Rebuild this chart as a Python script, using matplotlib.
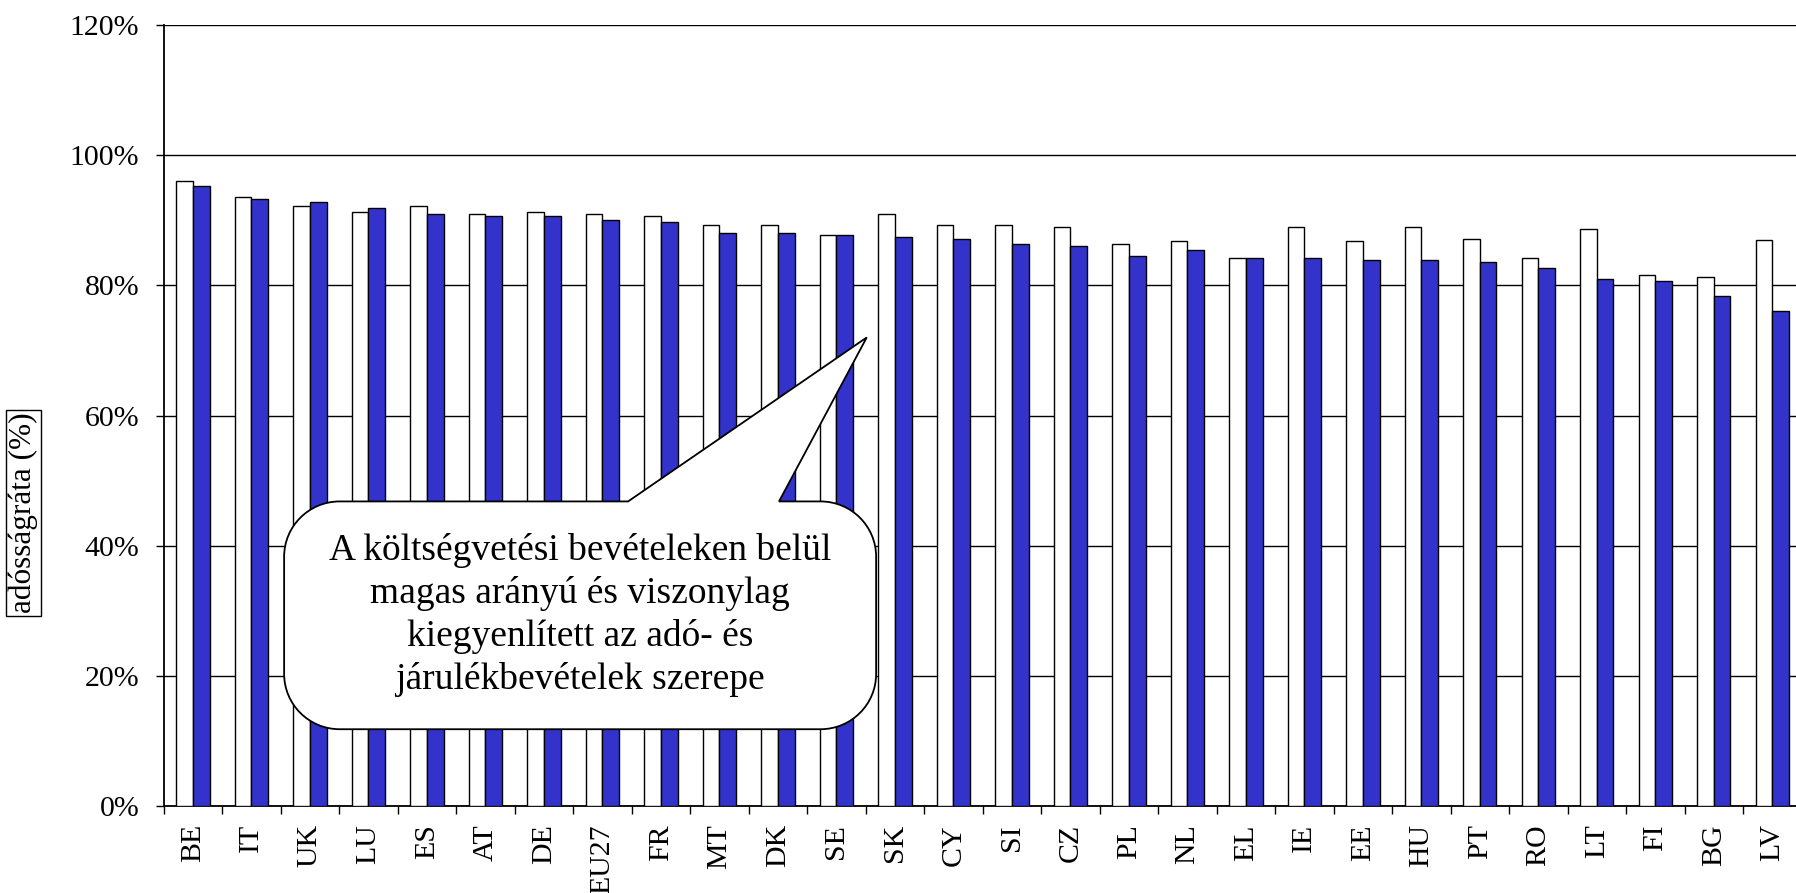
import numpy as np
import matplotlib
matplotlib.use("Agg")
import matplotlib.pyplot as plt
from matplotlib.path import Path
from matplotlib.patches import PathPatch
from matplotlib.ticker import FuncFormatter

# adatok (leolvasva az ábráról)
orszagok = ["BE", "IT", "UK", "LU", "ES", "AT", "DE", "EU27", "FR", "MT", "DK", "SE", "SK", "CY",
            "SI", "CZ", "PL", "NL", "EL", "IE", "EE", "HU", "PT", "RO", "LT", "FI", "BG", "LV"]
feher = [96.1, 93.5, 92.2, 91.3, 92.2, 91.0, 91.3, 91.0, 90.6, 89.3, 89.3, 87.7, 91.0, 89.3,
         89.3, 89.0, 86.4, 86.8, 84.2, 89.0, 86.8, 89.0, 87.1, 84.2, 88.7, 81.6, 81.3, 86.9]
kek = [95.2, 93.2, 92.8, 91.9, 90.9, 90.6, 90.6, 90.0, 89.7, 88.1, 88.1, 87.7, 87.4, 87.1,
       86.4, 86.1, 84.5, 85.5, 84.2, 84.2, 83.9, 83.9, 83.6, 82.6, 81.0, 80.6, 78.4, 76.1]
y_tickek = [0, 20, 40, 60, 80, 100, 120]

plt.rcParams['font.family'] = ['Liberation Serif', 'DejaVu Serif']

fig = plt.figure(figsize=(17.96, 8.93), dpi=100)
ax = fig.add_axes([0.0911, 0.0974, 0.912, 0.8746])

x = np.arange(len(orszagok))
w = 0.285
ax.bar(x - w / 2, feher, w, color="white", edgecolor="black", linewidth=1.0, zorder=3)
ax.bar(x + w / 2, kek, w, color="#3333CC", edgecolor="black", linewidth=1.0, zorder=3)

ax.set_xlim(-0.5, len(orszagok) - 0.5)
ax.set_ylim(0, 120)
ax.set_yticks(y_tickek)
ax.yaxis.set_major_formatter(FuncFormatter(lambda v, p: "%d%%" % v))
ax.grid(axis="y", color="black", linewidth=1.0, zorder=0)
ax.set_axisbelow(True)

ax.set_xticks(x)
ax.set_xticklabels(orszagok, rotation=90)
ax.set_xticks(np.arange(-0.5, len(orszagok), 1), minor=True)
ax.tick_params(axis="x", which="major", length=0, pad=13, labelsize=21.5)
ax.tick_params(axis="x", which="minor", length=6, width=1.0, direction="out")
ax.tick_params(axis="y", length=6, width=1.0, direction="out", pad=11.5, labelsize=21.5)

for s in ["top", "right"]:
    ax.spines[s].set_visible(False)
ax.spines["left"].set_linewidth(1.3)
ax.spines["bottom"].set_linewidth(1.3)

fig.text(0.0131, 0.4255, "adósságráta (%)", rotation=90, ha="center", va="center", fontsize=22.5,
         bbox=dict(boxstyle="square,pad=0.1", facecolor="white", edgecolor="black", linewidth=1.0))

# szövegbuborék
bal, jobb, felso, also = 1.56, 11.68, 46.8, 11.8
rx, ry = 0.95, 8.5
b0, b1 = 7.44, 10.02
csucs = (11.52, 72.0)
k = 0.5523
verts = [
    (b0, felso), csucs, (b1, felso), (jobb - rx, felso),
    (jobb - rx + k * rx, felso), (jobb, felso - ry + k * ry), (jobb, felso - ry),
    (jobb, also + ry),
    (jobb, also + ry - k * ry), (jobb - rx + k * rx, also), (jobb - rx, also),
    (bal + rx, also),
    (bal + rx - k * rx, also), (bal, also + ry - k * ry), (bal, also + ry),
    (bal, felso - ry),
    (bal, felso - ry + k * ry), (bal + rx - k * rx, felso), (bal + rx, felso),
    (b0, felso), (b0, felso),
]
codes = ([Path.MOVETO, Path.LINETO, Path.LINETO, Path.LINETO]
         + [Path.CURVE4] * 3 + [Path.LINETO]
         + [Path.CURVE4] * 3 + [Path.LINETO]
         + [Path.CURVE4] * 3 + [Path.LINETO]
         + [Path.CURVE4] * 3 + [Path.LINETO, Path.CLOSEPOLY])
ax.add_patch(PathPatch(Path(verts, codes), facecolor="white", edgecolor="black",
                       linewidth=1.3, zorder=10, clip_on=False))
ax.text((bal + jobb) / 2, 29.4,
        "A költségvetési bevételeken belül\nmagas arányú és viszonylag\nkiegyenlített az adó- és\njárulékbevételek szerepe",
        ha="center", va="center", fontsize=27, linespacing=1.3, zorder=11)

fig.savefig("out.png", dpi=100)
